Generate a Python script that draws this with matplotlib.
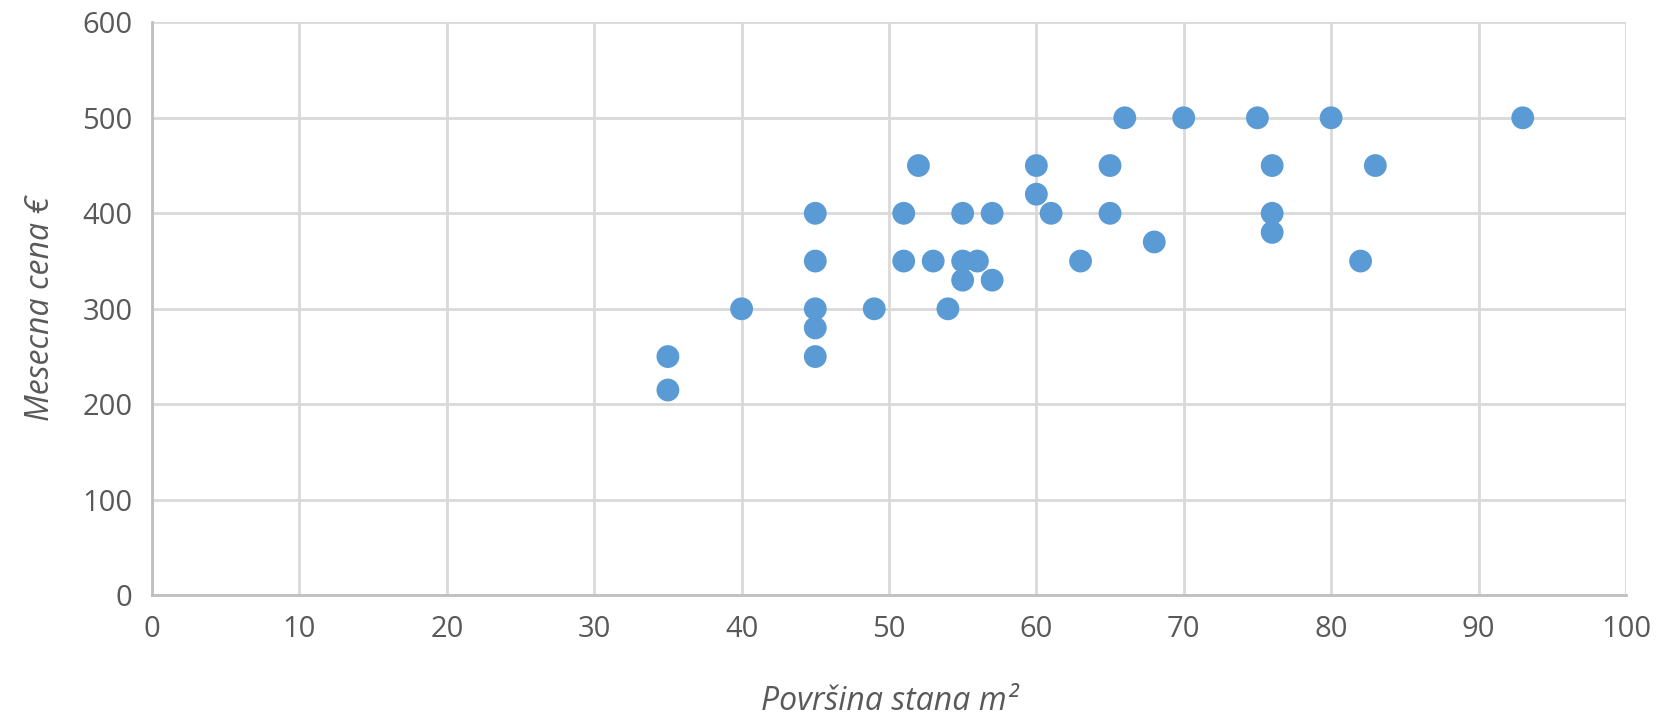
import matplotlib.pyplot as plt

# --- data ---
area_m2 = [35, 35, 40, 45, 45, 45, 45, 45, 49, 51, 51, 52, 53, 54, 55, 55, 55,
           56, 57, 57, 60, 60, 61, 63, 65, 65, 66, 68, 70, 75, 76, 76, 76, 80,
           82, 83, 93]
price_eur = [250, 215, 300, 400, 350, 300, 280, 250, 300, 400, 350, 450, 350,
             300, 400, 350, 330, 350, 400, 330, 450, 420, 400, 350, 450, 400,
             500, 370, 500, 500, 450, 400, 380, 500, 350, 450, 500]
x_ticks = list(range(0, 101, 10))
y_ticks = list(range(0, 601, 100))

plt.rcParams['font.family'] = ['Open Sans', 'DejaVu Sans']
text_col = '#595959'

fig = plt.figure(figsize=(16.71, 7.19), dpi=100)
ax = fig.add_axes([0.091, 0.172, 0.882, 0.797])

ax.scatter(area_m2, price_eur, s=270, color='#5B9BD5', edgecolors='none',
           zorder=3, clip_on=False)

ax.set_xlim(0, 100)
ax.set_ylim(0, 600)
ax.set_xticks(x_ticks)
ax.set_yticks(y_ticks)
ax.grid(True, color='#D9D9D9', linewidth=2, zorder=0)
ax.set_axisbelow(True)

for side in ['top', 'right']:
    ax.spines[side].set_visible(False)
for side in ['left', 'bottom']:
    ax.spines[side].set_color('#BFBFBF')
    ax.spines[side].set_linewidth(2)

ax.tick_params(length=0, labelsize=21, labelcolor=text_col)
ax.tick_params(axis='x', pad=14)
ax.tick_params(axis='y', pad=14)

ax.set_xlabel('Površina stana m²', fontsize=23, style='italic',
              color=text_col, labelpad=30)
ax.set_ylabel('Mesecna cena €', fontsize=23, style='italic',
              color=text_col, labelpad=18)

fig.savefig('out.png', dpi=100, facecolor='white')
